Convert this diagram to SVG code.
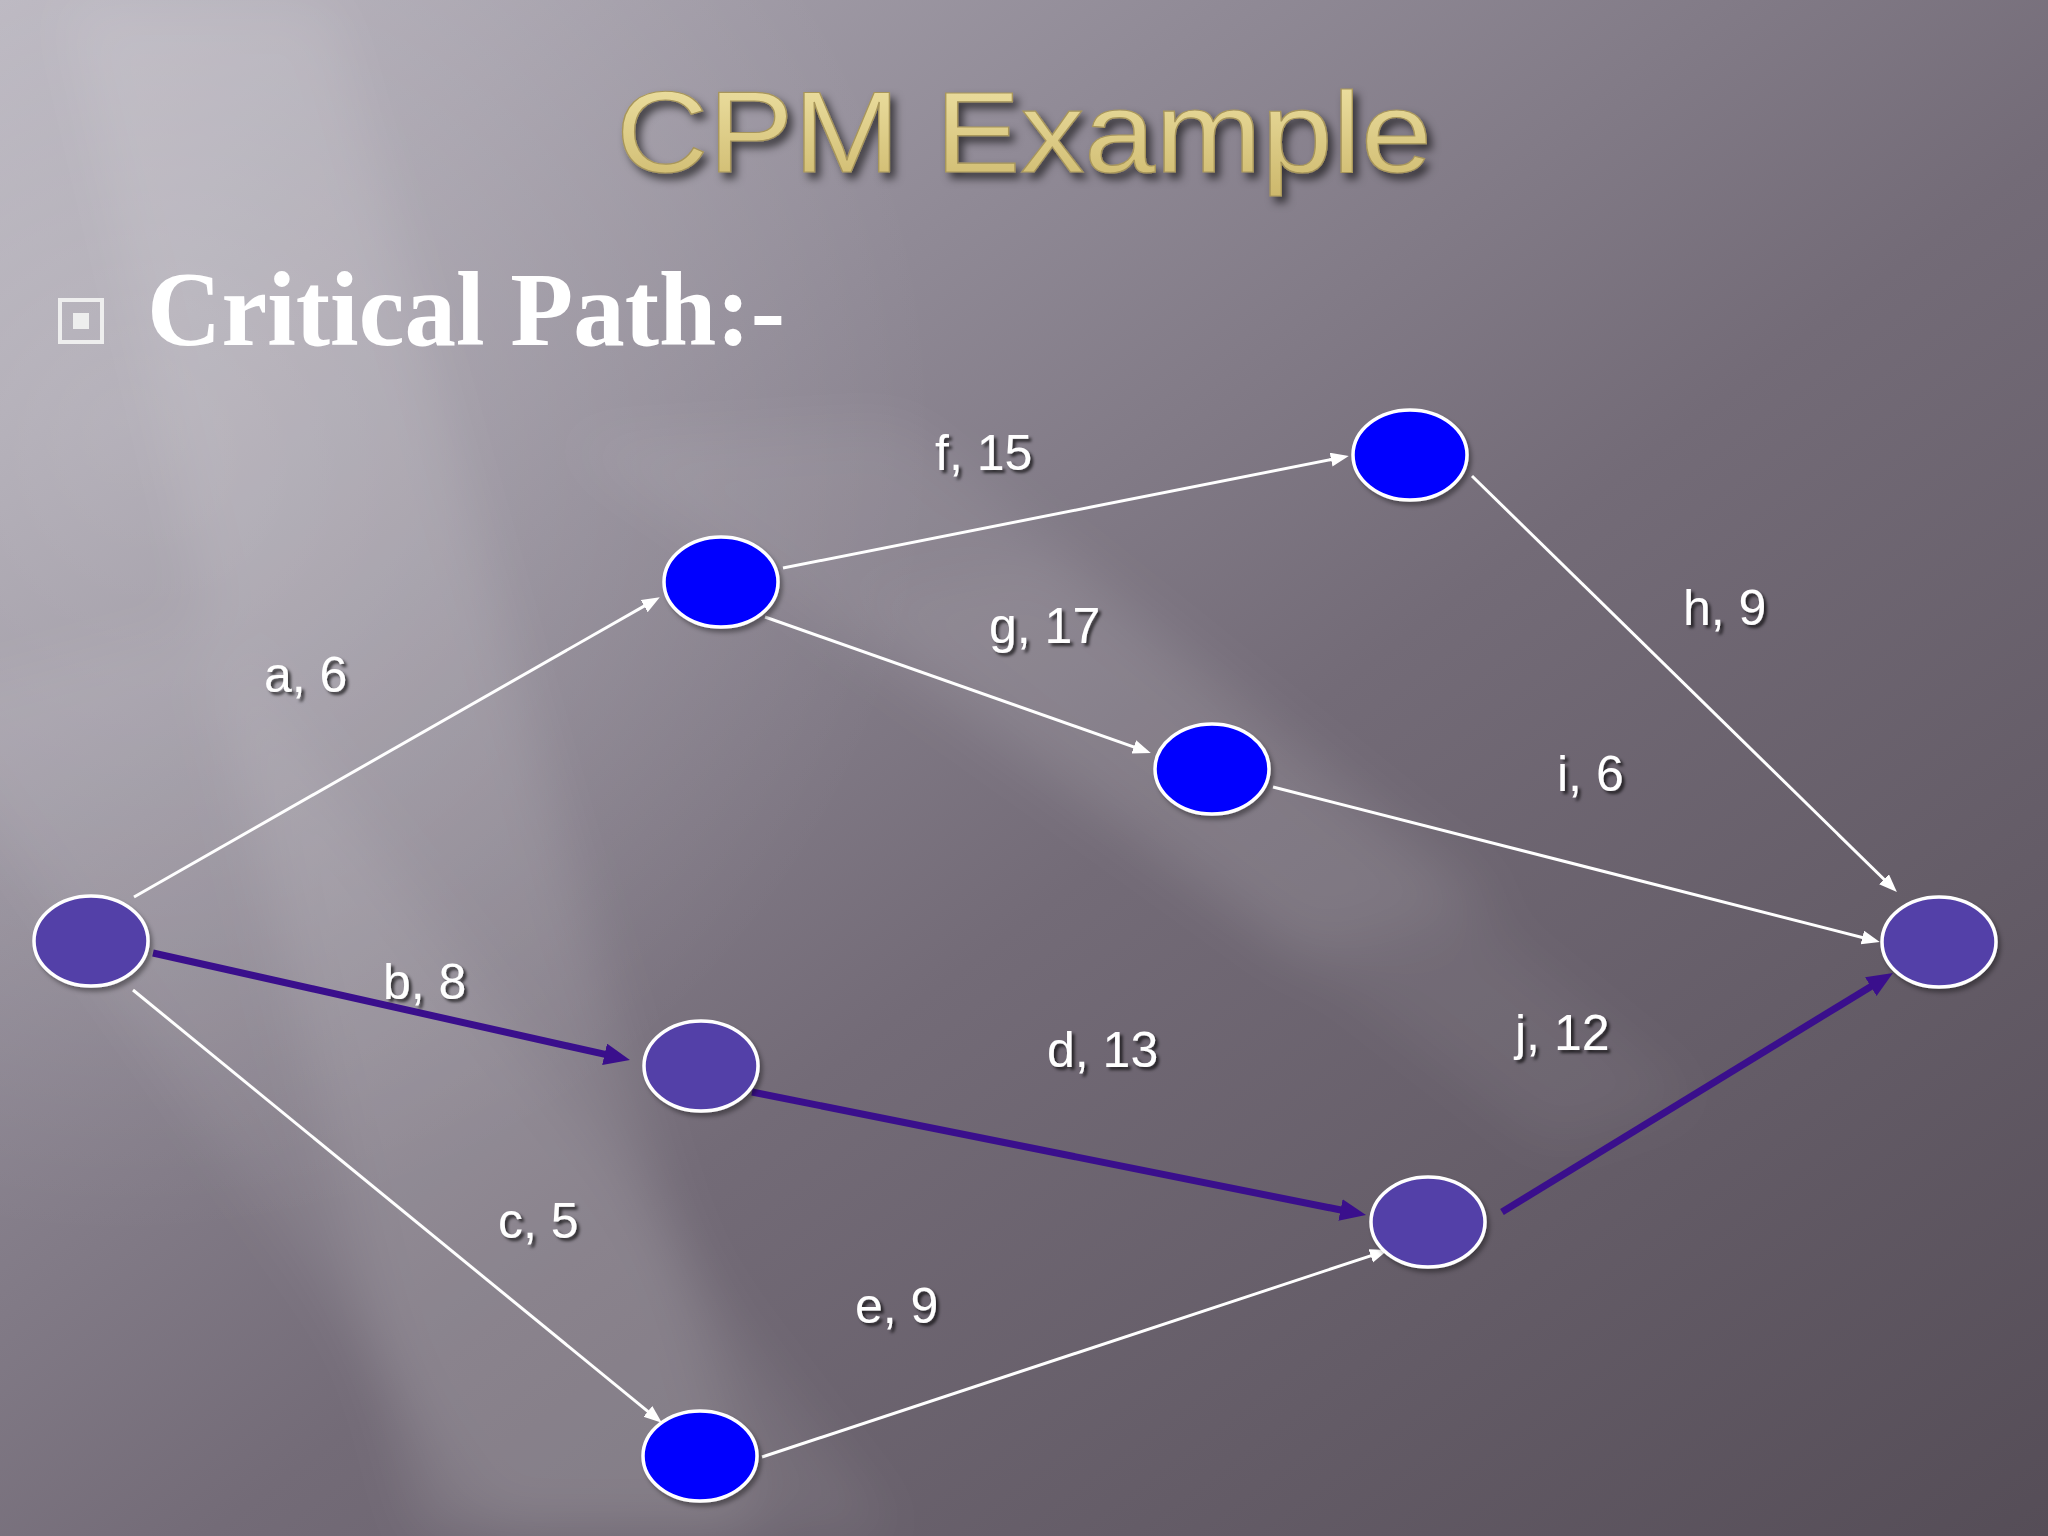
<svg xmlns="http://www.w3.org/2000/svg" width="2048" height="1536" viewBox="0 0 2048 1536">
  <defs>
    <linearGradient id="bg" x1="0" y1="0" x2="1" y2="1">
      <stop offset="0" stop-color="#b6b2bc"/>
      <stop offset="0.3" stop-color="#908a96"/>
      <stop offset="0.55" stop-color="#736b77"/>
      <stop offset="1" stop-color="#554d57"/>
    </linearGradient>
    <radialGradient id="glow" cx="120" cy="420" r="820" gradientUnits="userSpaceOnUse">
      <stop offset="0" stop-color="#ffffff" stop-opacity="0.22"/>
      <stop offset="1" stop-color="#ffffff" stop-opacity="0"/>
    </radialGradient>
    <linearGradient id="gold" x1="0" y1="0" x2="0" y2="1">
      <stop offset="0" stop-color="#efe3a6"/>
      <stop offset="1" stop-color="#cdb86c"/>
    </linearGradient>
    <filter id="blur" x="-20%" y="-20%" width="140%" height="140%">
      <feGaussianBlur stdDeviation="28"/>
    </filter>
    <filter id="tshadow" x="-10%" y="-20%" width="130%" height="150%">
      <feDropShadow dx="3" dy="3" stdDeviation="1.5" flood-color="#000" flood-opacity="0.65"/>
    </filter>
    <filter id="titleshadow" x="-10%" y="-20%" width="130%" height="160%">
      <feDropShadow dx="5" dy="6" stdDeviation="4" flood-color="#000" flood-opacity="0.6"/>
    </filter>
    <filter id="nshadow" x="-20%" y="-20%" width="150%" height="150%">
      <feDropShadow dx="3" dy="4" stdDeviation="2" flood-color="#000" flood-opacity="0.35"/>
    </filter>
    <marker id="wa" markerUnits="userSpaceOnUse" markerWidth="20" markerHeight="16" refX="11" refY="7" orient="auto">
      <path d="M0,0 L18,7 L0,14 z" fill="#ffffff"/>
    </marker>
    <marker id="pa" markerUnits="userSpaceOnUse" markerWidth="28" markerHeight="24" refX="15.6" refY="11" orient="auto">
      <path d="M0,0 L26,11 L0,22 z" fill="#3a0f8c"/>
    </marker>
    <style>
      .lbl { font-family: "Liberation Sans", Arial, sans-serif; font-size: 50px; fill: #ffffff; filter: url(#tshadow); }
      .w { stroke: #ffffff; stroke-width: 3; fill: none; marker-end: url(#wa); }
      .p { stroke: #3a0f8c; stroke-width: 7; fill: none; marker-end: url(#pa); }
      .nb { fill: #0000ff; stroke: #ffffff; stroke-width: 3.5; filter: url(#nshadow); }
      .np { fill: #5340a8; stroke: #ffffff; stroke-width: 3.5; filter: url(#nshadow); }
    </style>
  </defs>

  <g id="background">
    <rect x="0" y="0" width="2048" height="1536" fill="url(#bg)"/>
    <rect x="0" y="0" width="2048" height="1536" fill="url(#glow)"/>
    <g filter="url(#blur)" fill="#ffffff">
      <polygon points="60,0 330,0 760,1536 420,1536" opacity="0.10"/>
      <polygon points="560,440 900,420 1500,900 1300,960" opacity="0.07"/>
      <polygon points="-100,700 200,620 900,1536 500,1536" opacity="0.07"/>
      <polygon points="850,600 1050,560 1700,1100 1550,1150" opacity="0.05"/>
    </g>
  </g>

  <g id="title">
    <text x="1024" y="172" text-anchor="middle" font-family="'Liberation Sans', Arial, sans-serif" font-size="115" fill="url(#gold)" stroke="#a8965a" stroke-width="1.2" textLength="816" lengthAdjust="spacingAndGlyphs" filter="url(#titleshadow)">CPM Example</text>
  </g>

  <g id="bullet">
    <rect x="60" y="300" width="42" height="42" fill="none" stroke="#eeeeee" stroke-width="4"/>
    <rect x="73" y="313" width="16" height="16" fill="#eeeeee"/>
    <text x="147" y="345" font-family="'Liberation Serif', 'Times New Roman', serif" font-weight="bold" font-size="106" fill="#ffffff" textLength="638" lengthAdjust="spacingAndGlyphs">Critical Path:-</text>
  </g>

  <g id="connectors">
    <line id="edge-a" class="w" x1="134" y1="897" x2="653.7" y2="600.6"/>
    <line id="edge-c" class="w" x1="133" y1="990" x2="656.4" y2="1418.4"/>
    <line id="edge-f" class="w" x1="783" y1="568" x2="1341.9" y2="457.4"/>
    <line id="edge-g" class="w" x1="765" y1="617" x2="1144.2" y2="750.6"/>
    <line id="edge-h" class="w" x1="1472" y1="476" x2="1891.9" y2="887.0"/>
    <line id="edge-i" class="w" x1="1273" y1="787" x2="1873.0" y2="940.2"/>
    <line id="edge-e" class="w" x1="762" y1="1457" x2="1381.2" y2="1252.3"/>
    <line id="edge-b" class="p" x1="153" y1="953" x2="619.8" y2="1057.7"/>
    <line id="edge-d" class="p" x1="752" y1="1092" x2="1355.8" y2="1213.0"/>
    <line id="edge-j" class="p" x1="1502" y1="1212" x2="1884.1" y2="978.4"/>
  </g>

  <g id="labels">
    <text class="lbl" x="264" y="692">a, 6</text>
    <text class="lbl" x="383" y="999">b, 8</text>
    <text class="lbl" x="498" y="1238">c, 5</text>
    <text class="lbl" x="1047" y="1067">d, 13</text>
    <text class="lbl" x="855" y="1323">e, 9</text>
    <text class="lbl" x="935" y="470">f, 15</text>
    <text class="lbl" x="989" y="643">g, 17</text>
    <text class="lbl" x="1683" y="625">h, 9</text>
    <text class="lbl" x="1557" y="791">i, 6</text>
    <text class="lbl" x="1515" y="1050">j, 12</text>
  </g>

  <g id="node-start"><ellipse class="np" cx="91" cy="941" rx="57" ry="45"/></g>
  <g id="node-1"><ellipse class="nb" cx="721" cy="582" rx="57" ry="45"/></g>
  <g id="node-2"><ellipse class="nb" cx="1410" cy="455" rx="57" ry="45"/></g>
  <g id="node-3"><ellipse class="nb" cx="1212" cy="769" rx="57" ry="45"/></g>
  <g id="node-4"><ellipse class="np" cx="701" cy="1066" rx="57" ry="45"/></g>
  <g id="node-5"><ellipse class="np" cx="1428" cy="1222" rx="57" ry="45"/></g>
  <g id="node-6"><ellipse class="nb" cx="700" cy="1456" rx="57" ry="45"/></g>
  <g id="node-end"><ellipse class="np" cx="1939" cy="942" rx="57" ry="45"/></g>
</svg>
